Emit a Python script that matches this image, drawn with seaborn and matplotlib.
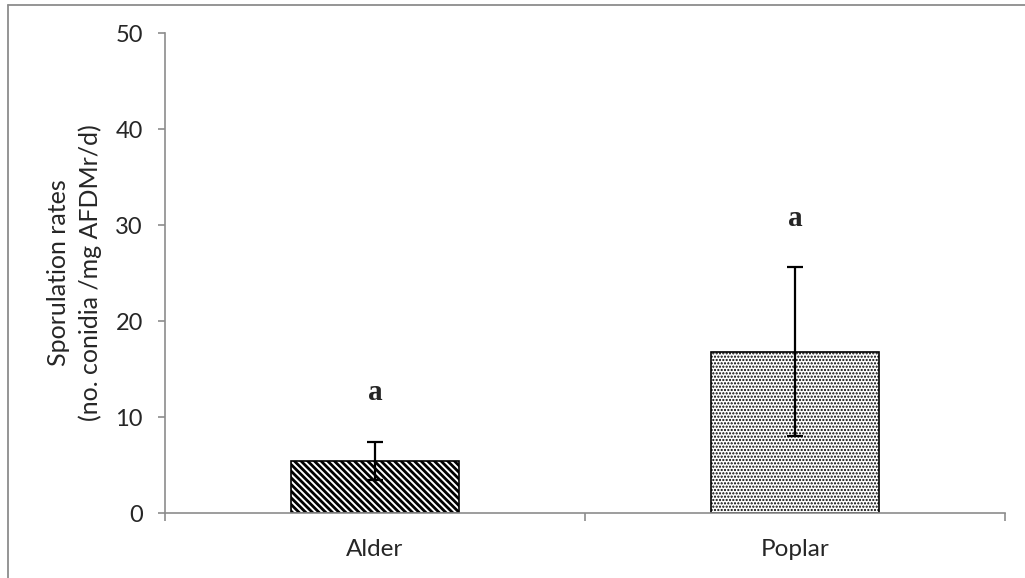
"""Sporulation rates bar chart (Alder vs Poplar)"""
import matplotlib
matplotlib.use("Agg")
import matplotlib.pyplot as plt
import numpy as np
import pandas as pd
import seaborn as sns
from matplotlib.lines import Line2D

# data
species = ["Alder", "Poplar"]
means = [5.4, 16.8]
errors = [2.0, 8.8]
letters = ["a", "a"]
hatches = ["\\" * 5, "....."]
y_ticks = [0, 10, 20, 30, 40, 50]

sns.set_style("white")
plt.rcParams["font.family"] = ["Lato", "DejaVu Sans"]
plt.rcParams["hatch.linewidth"] = 2.0

fig = plt.figure(figsize=(10.25, 5.78), dpi=100)
ax = fig.add_axes([165 / 1025, 1 - 513 / 578, 840 / 1025, 480 / 578])

df = pd.DataFrame({"species": species, "rate": means})
sns.barplot(data=df, x="species", y="rate", order=species, width=0.4,
            color="white", edgecolor="black", linewidth=1.2, ax=ax,
            errorbar=None)

for bar, h in zip(ax.patches, hatches):
    bar.set_facecolor("white")
    bar.set_edgecolor("black")
    bar.set_hatch(h)
    if hasattr(bar, "set_hatch_linewidth"):
        bar.set_hatch_linewidth(1.05 if h.startswith(".") else 2.0)

pos = np.arange(len(species))
ax.errorbar(pos, means, yerr=errors, fmt="none", ecolor="black",
            elinewidth=1.6, capsize=6, capthick=1.6, zorder=5)

for x, m, e, lab in zip(pos, means, errors, letters):
    ax.text(x, m + e + 5.1, lab, ha="center", va="center",
            fontsize=21, fontweight="bold", family="Liberation Serif")

ax.set_xlim(-0.5, len(species) - 0.5)
ax.set_ylim(0, 50)
ax.set_yticks(y_ticks)
ax.set_xticks(pos)
ax.set_xticklabels(species)
ax.set_xticks(np.arange(len(species) + 1) - 0.5, minor=True)
ax.set_xlabel("")
ax.set_ylabel("Sporulation rates\n(no. conidia /mg AFDMr/d)", fontsize=18,
              linespacing=1.45)
ax.yaxis.set_label_coords(-0.075, 0.5)

spine_c = "#8c8c8c"
for s in ["top", "right"]:
    ax.spines[s].set_visible(False)
for s in ["left", "bottom"]:
    ax.spines[s].set_color(spine_c)
    ax.spines[s].set_linewidth(1.2)

ax.tick_params(axis="y", direction="out", length=5, width=1.2, color=spine_c,
               labelsize=17, left=True, pad=11)
ax.tick_params(axis="x", which="major", length=0, labelsize=17.5, pad=19)
ax.tick_params(axis="x", which="minor", direction="out", length=6, width=1.2,
               color=spine_c, bottom=True)

# outer chart border (partly cropped in the reference)
fig.add_artist(Line2D([7.5 / 1025, 7.5 / 1025], [0, 1 - 4.5 / 578],
                      transform=fig.transFigure, color="#8c8c8c", lw=1.3))
fig.add_artist(Line2D([7.5 / 1025, 1], [1 - 4.5 / 578, 1 - 4.5 / 578],
                      transform=fig.transFigure, color="#8c8c8c", lw=1.3))

fig.savefig("out.png", dpi=100)
